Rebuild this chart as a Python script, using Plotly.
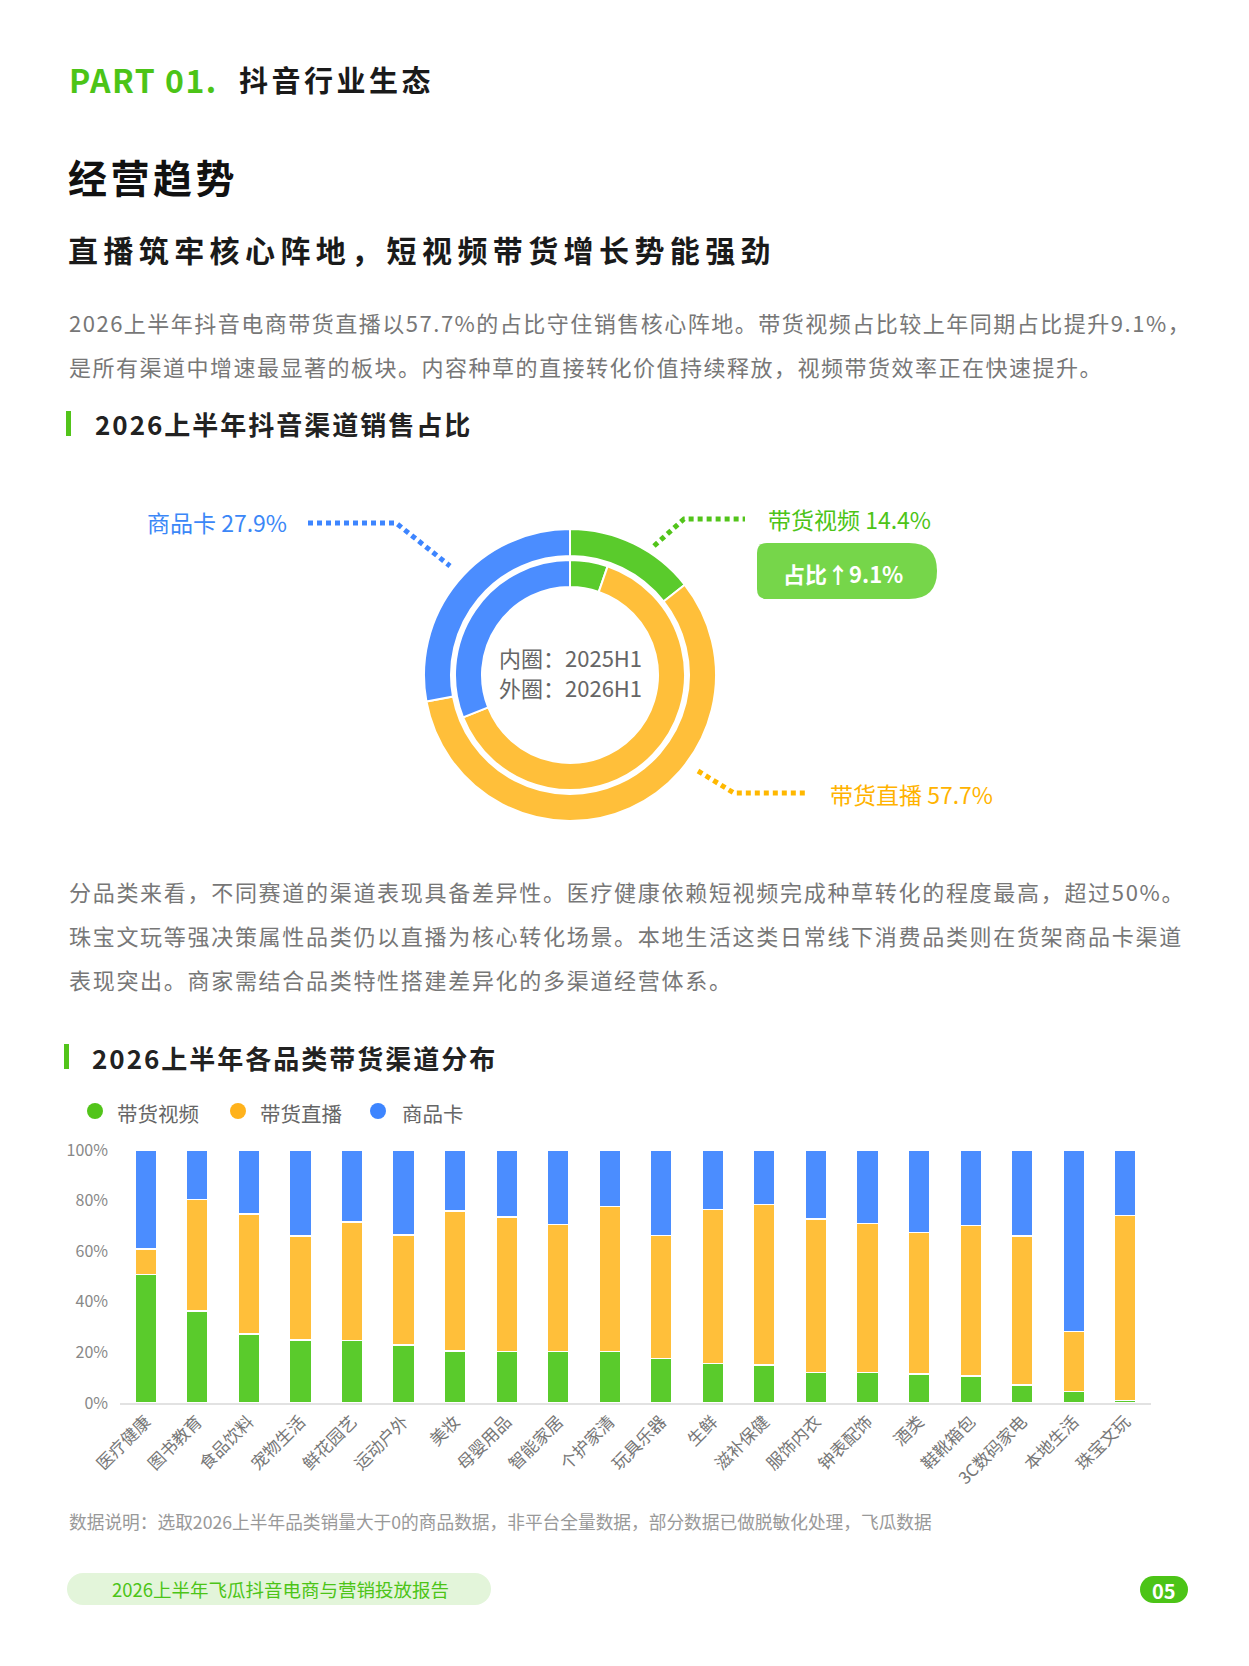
import plotly.graph_objects as go

W, H = 1249, 1666
OFF = 8  # page body margin of the html wrapper

# donut data (share %, inner ring = 2025H1, outer ring = 2026H1)
channels = ["带货视频", "带货直播", "商品卡"]
share_2025 = [5.3, 63.7, 31.0]
share_2026 = [14.4, 57.7, 27.9]

# bar data by category (% of sales)
categories = ["医疗健康", "图书教育", "食品饮料", "宠物生活", "鲜花园艺", "运动户外", "美妆",
              "母婴用品", "智能家居", "个护家清", "玩具乐器", "生鲜", "滋补保健", "服饰内衣",
              "钟表配饰", "酒类", "鞋靴箱包", "3C数码家电", "本地生活", "珠宝文玩"]
video = [50.7, 36.4, 27.2, 25.0, 24.8, 22.9, 20.5, 20.4, 20.4, 20.3,
         17.6, 15.6, 15.0, 12.1, 12.1, 11.5, 10.7, 7.2, 4.5, 1.0]
live = [10.2, 44.1, 47.6, 41.0, 46.7, 43.6, 55.4, 53.2, 50.2, 57.3,
        48.6, 60.8, 63.4, 60.7, 58.8, 55.8, 59.5, 58.9, 23.8, 73.2]
card = [39.1, 19.5, 25.2, 34.0, 28.5, 33.5, 24.1, 26.4, 29.4, 22.4,
        33.8, 23.6, 21.6, 27.2, 29.1, 32.7, 29.8, 33.9, 71.7, 25.8]
y_ticks = [0, 20, 40, 60, 80, 100]
y_ticktext = ["0%", "20%", "40%", "60%", "80%", "100%"]

GREEN, ORANGE, BLUE = "#5ACB2C", "#FFBF3A", "#4B8DFF"
FONT = "Noto Sans CJK SC"


def px(x):
    return (x - OFF) / W


def py(y):
    return 1 - (y - OFF) / H


def dom(cx, cy, r):
    return dict(x=[px(cx - r), px(cx + r)], y=[py(cy + r), py(cy - r)])


fig = go.Figure()

# donut rings
CX, CY = 570, 675
fig.add_trace(go.Pie(labels=channels, values=share_2026, hole=119 / 146, domain=dom(CX, CY, 146),
                     sort=False, direction="clockwise", rotation=0, textinfo="none",
                     marker=dict(colors=[GREEN, ORANGE, BLUE], line=dict(color="white", width=2)),
                     showlegend=False, hoverinfo="label+percent"))
fig.add_trace(go.Pie(labels=channels, values=share_2025, hole=88 / 115, domain=dom(CX, CY, 115),
                     sort=False, direction="clockwise", rotation=0, textinfo="none",
                     marker=dict(colors=[GREEN, ORANGE, BLUE], line=dict(color="white", width=2)),
                     showlegend=False, hoverinfo="label+percent"))

# stacked bars
for name, vals, col in [("带货视频", video, GREEN), ("带货直播", live, ORANGE), ("商品卡", card, BLUE)]:
    fig.add_trace(go.Bar(x=categories, y=vals, name=name, marker=dict(color=col, line=dict(color="white", width=1.5)),
                         showlegend=False))

shapes = []
ann = []


def text(x, y, s, size, color="#222", xanchor="left", bold=False, spacing=None):
    if spacing:
        s = f"<span style='letter-spacing:{spacing}px'>{s}</span>"
    if bold:
        s = f"<b>{s}</b>"
    ann.append(dict(x=px(x), y=py(y), xref="paper", yref="paper", text=s, showarrow=False,
                    xanchor=xanchor, yanchor="middle", font=dict(family=FONT, size=size, color=color)))


def pill(x0, x1, y0, y1, color):
    r = (y1 - y0) / 2
    shapes.append(dict(type="rect", xref="paper", yref="paper", x0=px(x0 + r), x1=px(x1 - r),
                       y0=py(y1), y1=py(y0), fillcolor=color, line=dict(width=0)))
    for cx in (x0 + r, x1 - r):
        shapes.append(dict(type="circle", xref="paper", yref="paper", x0=px(cx - r), x1=px(cx + r),
                           y0=py(y1), y1=py(y0), fillcolor=color, line=dict(width=0)))


# header texts
text(67, 79, "PART 01.", 32, "#4CC417", bold=True, spacing=1.5)
text(237, 79, "抖音行业生态", 29, "#1a1a1a", bold=True, spacing=3.5)
text(66, 176, "经营趋势", 39, "#111", bold=True, spacing=3.5)
text(66, 249, "直播筑牢核心阵地，短视频带货增长势能强劲", 30, "#1a1a1a", bold=True, spacing=5.4)
text(67, 322, "2026上半年抖音电商带货直播以57.7%的占比守住销售核心阵地。带货视频占比较上年同期占比提升9.1%，",
     22, "#777", spacing=1.5)
text(67, 366, "是所有渠道中增速最显著的板块。内容种草的直接转化价值持续释放，视频带货效率正在快速提升。",
     22, "#777", spacing=1.5)

# section 1 title
shapes.append(dict(type="rect", xref="paper", yref="paper", x0=px(66), x1=px(71), y0=py(436), y1=py(411),
                   fillcolor="#52C41A", line=dict(width=0)))
text(93, 424, "2026上半年抖音渠道销售占比", 26, "#222", bold=True, spacing=2)

# donut center text
text(CX, CY - 18, "内圈：2025H1", 22, "#666", xanchor="center")
text(CX, CY + 12, "外圈：2026H1", 22, "#666", xanchor="center")


def dotted(pts, color):
    d = "M " + " L ".join(f"{px(x)},{py(y)}" for x, y in pts)
    shapes.append(dict(type="path", xref="paper", yref="paper", path=d,
                       line=dict(color=color, width=5, dash="5px,4px")))


dotted([(308, 523), (396, 523), (450, 566)], "#3D85FF")
dotted([(654, 546), (684, 519), (745, 519)], "#52C41A")
dotted([(698, 771), (734, 793), (805, 793)], "#FFB800")
text(145, 522, "商品卡 27.9%", 23, "#3B87F7")
text(766, 519, "带货视频 14.4%", 23, "#4CC417")
text(828, 794, "带货直播 57.7%", 23, "#FFB300")

# badge
bx0, bx1, by0, by1, r = 757, 937, 543, 599, 10
R = (by1 - by0) / 2
path = (f"M {px(bx0 + r)},{py(by0)} L {px(bx1 - R)},{py(by0)} "
        f"Q {px(bx1)},{py(by0)} {px(bx1)},{py(by0 + R)} Q {px(bx1)},{py(by1)} {px(bx1 - R)},{py(by1)} "
        f"L {px(bx0 + r)},{py(by1)} Q {px(bx0)},{py(by1)} {px(bx0)},{py(by1 - r)} "
        f"L {px(bx0)},{py(by0 + r)} Q {px(bx0)},{py(by0)} {px(bx0 + r)},{py(by0)} Z")
shapes.append(dict(type="path", xref="paper", yref="paper", path=path, fillcolor="#76D64A", line=dict(width=0)))
text(781, 573, "占比↑9.1%", 22, "white", bold=True)

# paragraph 2
text(67, 891, "分品类来看，不同赛道的渠道表现具备差异性。医疗健康依赖短视频完成种草转化的程度最高，超过50%。",
     22, "#777", spacing=1.7)
text(67, 935, "珠宝文玩等强决策属性品类仍以直播为核心转化场景。本地生活这类日常线下消费品类则在货架商品卡渠道",
     22, "#777", spacing=1.7)
text(67, 979, "表现突出。商家需结合品类特性搭建差异化的多渠道经营体系。", 22, "#777", spacing=1.7)

# section 2 title
shapes.append(dict(type="rect", xref="paper", yref="paper", x0=px(64), x1=px(69), y0=py(1069), y1=py(1044),
                   fillcolor="#52C41A", line=dict(width=0)))
text(90, 1057, "2026上半年各品类带货渠道分布", 26, "#222", bold=True, spacing=2)

# custom legend
for cx, tx, col, name in [(95, 115, "#52C41A", "带货视频"), (238, 258, "#FFB21C", "带货直播"),
                          (378, 400, "#3D85FF", "商品卡")]:
    shapes.append(dict(type="circle", xref="paper", yref="paper", x0=px(cx - 8), x1=px(cx + 8),
                       y0=py(1119), y1=py(1103), fillcolor=col, line=dict(width=0)))
    text(tx, 1113, name, 20.5, "#666")

# footnote
text(67, 1521, "数据说明：选取2026上半年品类销量大于0的商品数据，非平台全量数据，部分数据已做脱敏化处理，飞瓜数据",
     17.7, "#999")

# footer
pill(67, 491, 1573, 1605, "#E3F5DA")
text(110, 1589, "2026上半年飞瓜抖音电商与营销投放报告", 18.5, "#4CC417")
pill(1140, 1188, 1576, 1603, "#4CC417")
text(1164, 1590, "05", 20, "white", xanchor="center", bold=True)

fig.update_layout(
    width=W, height=H, margin=dict(l=0, r=0, t=0, b=0, autoexpand=False),
    paper_bgcolor="white", plot_bgcolor="white",
    barmode="stack", bargap=0.58,
    font=dict(family=FONT),
    shapes=shapes, annotations=ann,
    xaxis=dict(domain=[px(120), px(1151)], tickangle=-45, showgrid=False, showline=True, automargin=False,
               linecolor="#E2E2E2", linewidth=2, ticks="", tickfont=dict(size=17, color="#777", family=FONT)),
    yaxis=dict(domain=[py(1403), py(1150)], range=[0, 100], tickvals=y_ticks, ticktext=y_ticktext,
               showgrid=False, zeroline=False, ticks="", automargin=False, ticklabelstandoff=11,
               tickfont=dict(size=16, color="#888", family=FONT)),
)

fig.write_html("out.html")
